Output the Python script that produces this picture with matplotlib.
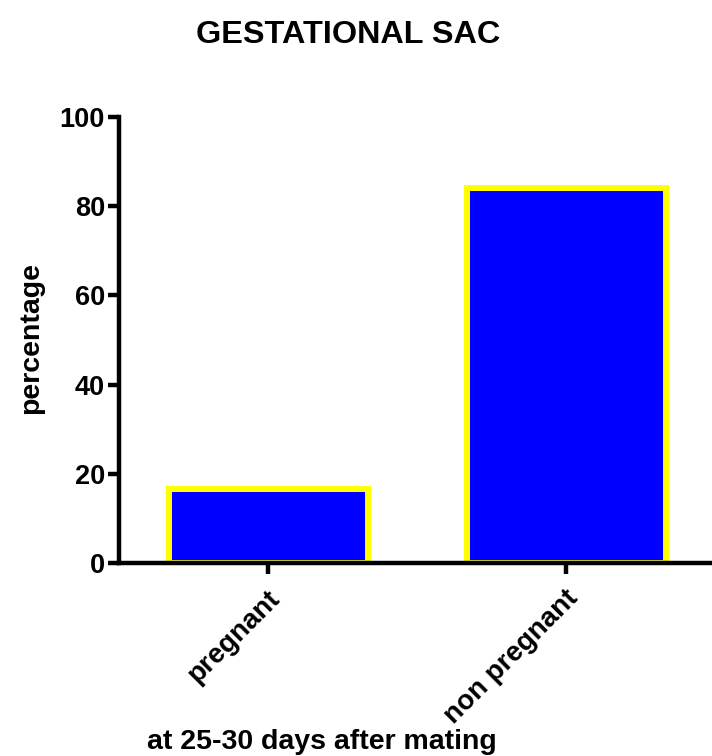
import matplotlib.pyplot as plt
import matplotlib.transforms as mtransforms

plt.rcParams['font.family'] = ['Liberation Sans', 'DejaVu Sans']
plt.rcParams['font.weight'] = 'bold'

# data
groups = ['pregnant', 'non pregnant']
percent = [16.5, 84.0]
y_ticks = [0, 20, 40, 60, 80, 100]

fig = plt.figure(figsize=(7.12, 7.56), dpi=100)
ax = fig.add_axes([0.167, 0.2553, 0.838, 0.5900])

x = range(len(groups))
ax.bar(x, percent, width=0.667, color='#0000ff', edgecolor='#ffff00',
       linewidth=4.3, zorder=2)

ax.set_xlim(-0.5, 1.5)
ax.set_ylim(0, 100)
ax.set_yticks(y_ticks)
ax.set_xticks(list(x))
ax.set_xticklabels(groups, rotation=45, ha='right', va='center',
                   rotation_mode='anchor', fontsize=20, fontweight='bold')
for lab in ax.get_yticklabels():
    lab.set_fontsize(19.5)
    lab.set_fontweight('bold')

for s in ['top', 'right']:
    ax.spines[s].set_visible(False)
for s in ['left', 'bottom']:
    ax.spines[s].set_linewidth(3.2)
    ax.spines[s].set_zorder(3)
ax.tick_params(axis='both', width=3.2, length=8, pad=2)
ax.tick_params(axis='x', pad=6)

# nudge the rotated category labels right and down
shift = mtransforms.ScaledTranslation(0.08, -0.12, fig.dpi_scale_trans)
for lab in ax.get_xticklabels():
    lab.set_transform(lab.get_transform() + shift)

fig.text(0.043, 0.553, 'percentage', rotation=90, ha='center', va='center',
         fontsize=20.5, fontweight='bold')
fig.text(0.489, 0.954, 'GESTATIONAL SAC', ha='center', va='center',
         fontsize=23.3, fontweight='bold')
fig.text(0.452, 0.019, 'at 25-30 days after mating', ha='center', va='center',
         fontsize=20.5, fontweight='bold')

fig.savefig('out.png', dpi=100)
